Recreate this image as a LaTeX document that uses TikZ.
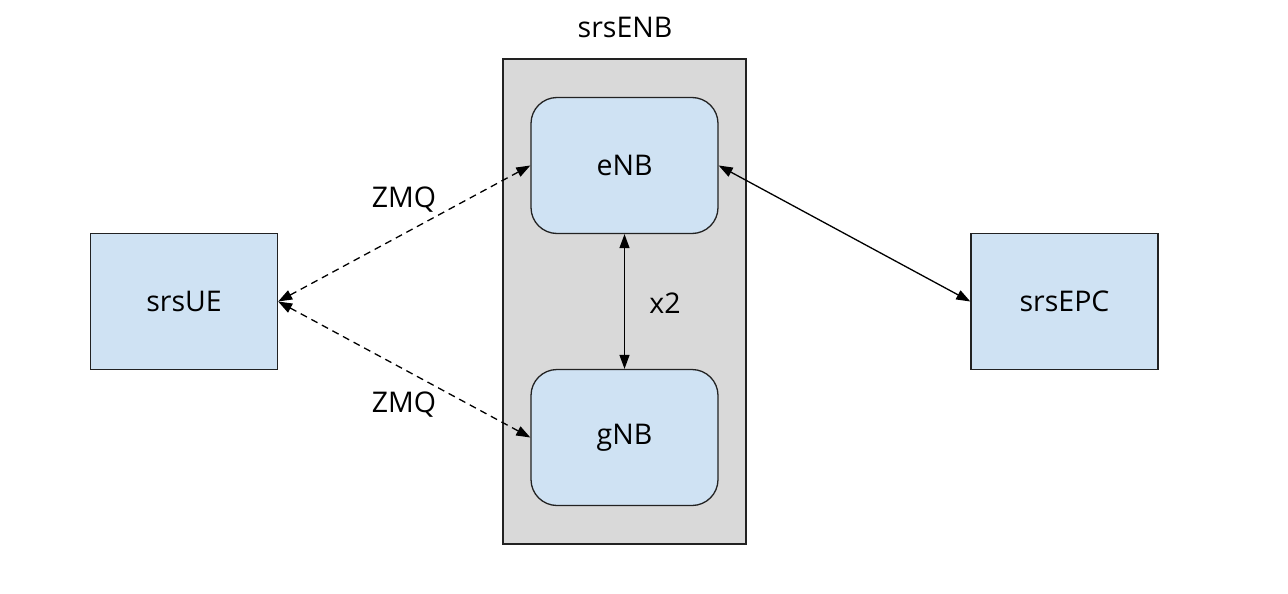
\documentclass[tikz,border=0pt]{standalone}
\usepackage{fontspec}
\setmainfont{Open Sans}
\usetikzlibrary{arrows.meta}
\definecolor{boxblue}{HTML}{CFE2F3}
\definecolor{enbgray}{HTML}{D9D9D9}
\definecolor{edge}{HTML}{222222}
\tikzset{
  box/.style={draw=edge, line width=1.3pt, fill=boxblue, minimum width=187pt, minimum height=136pt, inner sep=0pt, font=\fontsize{28.5}{32}\selectfont},
  rbox/.style={box, rounded corners=26pt},
  lbl/.style={font=\fontsize{28.5}{32}\selectfont, inner sep=0pt},
  link/.style={line width=1.3pt, {Triangle[length=14pt,width=10pt]}-{Triangle[length=14pt,width=10pt]}},
  zlink/.style={link, dash pattern=on 7pt off 5pt},
}
\begin{document}
\begin{tikzpicture}[x=1pt,y=-1pt]
\useasboundingbox (0,0) rectangle (1288,594);
\fill[white] (0,0) rectangle (1288,594);
\node[draw=edge, line width=1.3pt, fill=enbgray, minimum width=243pt, minimum height=485pt, inner sep=0pt] (enbbox) at (624.5,301.5) {};
\node[lbl] (enbtitle) at (625,27) {srsENB};
\node[rbox] (enb) at (624.5,165.5) {eNB};
\node[rbox] (gnb) at (624.5,437.5) {gNB};
\node[box] (ue) at (184,301.5) {srsUE};
\node[box] (epc) at (1064.5,301.5) {srsEPC};
\draw[zlink] (ue.east) -- (enb.west);
\draw[zlink] (ue.east) -- (gnb.west);
\draw[link] (enb.east) -- (epc.west);
\draw[link] (enb.south) -- (gnb.north);
\node[lbl] (z1) at (404,200) {ZMQ};
\node[lbl] (z2) at (404,405) {ZMQ};
\node[lbl] (x2) at (665,303) {x2};
\end{tikzpicture}
\end{document}
